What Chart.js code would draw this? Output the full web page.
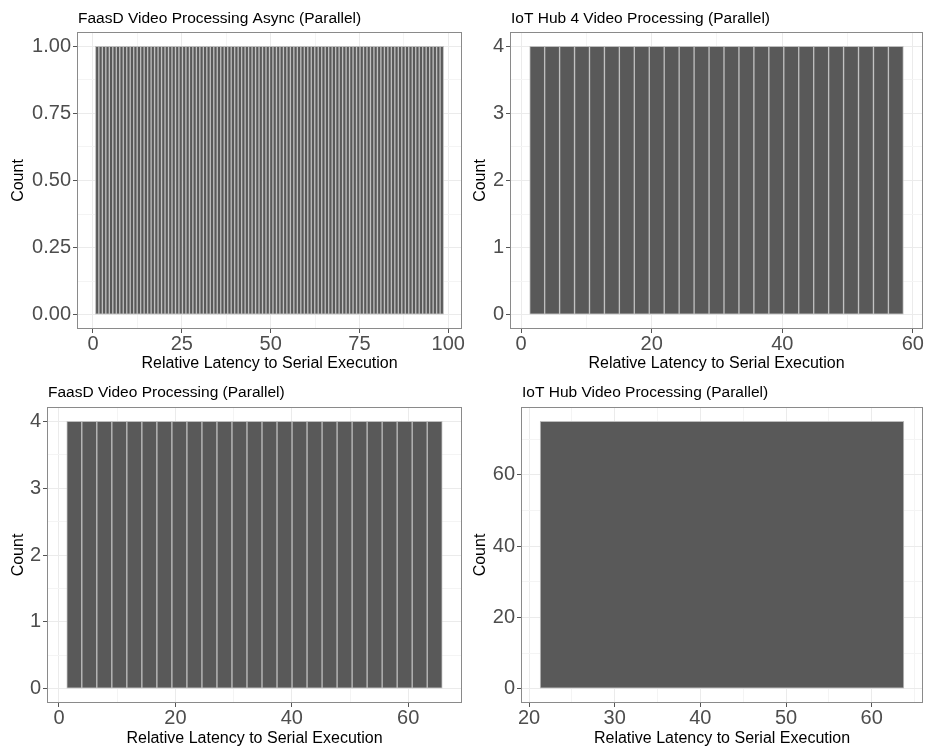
<!DOCTYPE html>
<html>
<head>
<meta charset="utf-8">
<script src="https://cdn.jsdelivr.net/npm/chart.js@4.4.1/dist/chart.umd.min.js"></script>
<style>
html, body { margin: 0; padding: 0; background: #ffffff; }
#wrap { position: relative; width: 925px; height: 749px; overflow: hidden; background: #ffffff; }
#wrap canvas { position: absolute; left: 0; top: 0; }
</style>
</head>
<body>
<div id="wrap">
<canvas id="c1" width="925" height="749"></canvas>
<canvas id="c2" width="925" height="749"></canvas>
<canvas id="c3" width="925" height="749"></canvas>
<canvas id="c4" width="925" height="749"></canvas>
</div>
<script>
// ---------------- DATA ----------------
const X_TITLE = 'Relative Latency to Serial Execution';
const Y_TITLE = 'Count';

// Panel 1: FaasD Video Processing Async (Parallel)
const P1_TITLE = 'FaasD Video Processing Async (Parallel)';
const P1_BIN_CENTERS = [1.17, 2.15, 3.13, 4.11, 5.09, 6.07, 7.05, 8.03, 9.01, 9.99,
  10.97, 11.95, 12.93, 13.91, 14.89, 15.87, 16.85, 17.83, 18.81, 19.79,
  20.77, 21.75, 22.73, 23.71, 24.69, 25.67, 26.65, 27.63, 28.61, 29.59,
  30.57, 31.55, 32.53, 33.51, 34.49, 35.47, 36.45, 37.43, 38.41, 39.39,
  40.37, 41.35, 42.33, 43.31, 44.29, 45.27, 46.25, 47.23, 48.21, 49.19,
  50.17, 51.15, 52.13, 53.11, 54.09, 55.07, 56.05, 57.03, 58.01, 58.99,
  59.97, 60.95, 61.93, 62.91, 63.89, 64.87, 65.85, 66.83, 67.81, 68.79,
  69.77, 70.75, 71.73, 72.71, 73.69, 74.67, 75.65, 76.63, 77.61, 78.59,
  79.57, 80.55, 81.53, 82.51, 83.49, 84.47, 85.45, 86.43, 87.41, 88.39,
  89.37, 90.35, 91.33, 92.31, 93.29, 94.27, 95.25, 96.23, 97.21, 98.19];
const P1_COUNTS = [1, 1, 1, 1, 1, 1, 1, 1, 1, 1,
  1, 1, 1, 1, 1, 1, 1, 1, 1, 1,
  1, 1, 1, 1, 1, 1, 1, 1, 1, 1,
  1, 1, 1, 1, 1, 1, 1, 1, 1, 1,
  1, 1, 1, 1, 1, 1, 1, 1, 1, 1,
  1, 1, 1, 1, 1, 1, 1, 1, 1, 1,
  1, 1, 1, 1, 1, 1, 1, 1, 1, 1,
  1, 1, 1, 1, 1, 1, 1, 1, 1, 1,
  1, 1, 1, 1, 1, 1, 1, 1, 1, 1,
  1, 1, 1, 1, 1, 1, 1, 1, 1, 1];
const P1_X_RANGE = [-4.22, 103.58];
const P1_Y_RANGE = [-0.05, 1.05];
const P1_X_MAJOR = [0, 25, 50, 75, 100];
const P1_X_MINOR = [12.5, 37.5, 62.5, 87.5];
const P1_Y_MAJOR = [0, 0.25, 0.5, 0.75, 1];
const P1_Y_MINOR = [0.125, 0.375, 0.625, 0.875];

// Panel 2: IoT Hub 4 Video Processing (Parallel)
const P2_TITLE = 'IoT Hub 4 Video Processing (Parallel)';
const P2_BIN_CENTERS = [2.45, 4.74, 7.03, 9.32, 11.61, 13.90, 16.19, 18.48, 20.77, 23.06,
  25.35, 27.64, 29.93, 32.22, 34.51, 36.80, 39.09, 41.38, 43.67, 45.96,
  48.25, 50.54, 52.83, 55.12, 57.41];
const P2_COUNTS = [4, 4, 4, 4, 4, 4, 4, 4, 4, 4, 4, 4, 4, 4, 4, 4, 4, 4, 4, 4, 4, 4, 4, 4, 4];
const P2_X_RANGE = [-1.56, 61.41];
const P2_Y_RANGE = [-0.2, 4.2];
const P2_X_MAJOR = [0, 20, 40, 60];
const P2_X_MINOR = [10, 30, 50];
const P2_Y_MAJOR = [0, 1, 2, 3, 4];
const P2_Y_MINOR = [0.5, 1.5, 2.5, 3.5];

// Panel 3: FaasD Video Processing (Parallel)
const P3_TITLE = 'FaasD Video Processing (Parallel)';
const P3_BIN_CENTERS = [2.63, 5.21, 7.79, 10.37, 12.95, 15.53, 18.11, 20.69, 23.27, 25.85,
  28.43, 31.01, 33.59, 36.17, 38.75, 41.33, 43.91, 46.49, 49.07, 51.65,
  54.23, 56.81, 59.39, 61.97, 64.55];
const P3_COUNTS = [4, 4, 4, 4, 4, 4, 4, 4, 4, 4, 4, 4, 4, 4, 4, 4, 4, 4, 4, 4, 4, 4, 4, 4, 4];
const P3_X_RANGE = [-1.885, 69.065];
const P3_Y_RANGE = [-0.2, 4.2];
const P3_X_MAJOR = [0, 20, 40, 60];
const P3_X_MINOR = [10, 30, 50];
const P3_Y_MAJOR = [0, 1, 2, 3, 4];
const P3_Y_MINOR = [0.5, 1.5, 2.5, 3.5];

// Panel 4: IoT Hub Video Processing (Parallel)
const P4_TITLE = 'IoT Hub Video Processing (Parallel)';
const P4_BIN_CENTERS = [42.525];
const P4_BIN_WIDTH = 42.45;
const P4_COUNTS = [75];
const P4_X_RANGE = [19.18, 65.87];
const P4_Y_RANGE = [-3.75, 78.75];
const P4_X_MAJOR = [20, 30, 40, 50, 60];
const P4_X_MINOR = [25, 35, 45, 55, 65];
const P4_Y_MAJOR = [0, 20, 40, 60];
const P4_Y_MINOR = [10, 30, 50, 70];

// ---------------- STYLE ----------------
const FONT = "'Liberation Sans', Arial, sans-serif";
const BAR_FILL = '#595959';
const BAR_EDGE = '#bdbdbd';
const GRID_MAJOR = '#ebebeb';
const GRID_MINOR = '#f4f4f4';
const TICK_COLOR = '#555555';
const TICK_TEXT = '#4d4d4d';
const FRAME = '#8a8a8a';

Chart.defaults.font.family = FONT;

const panelBorder = {
  id: 'panelBorder',
  afterDatasetsDraw(chart) {
    const { ctx, chartArea: a } = chart;
    ctx.save();
    ctx.strokeStyle = FRAME;
    ctx.lineWidth = 1;
    const l = Math.round(a.left), t = Math.round(a.top), r = Math.round(a.right), b = Math.round(a.bottom);
    ctx.strokeRect(l - 0.5, t - 0.5, r - l + 1, b - t + 1);
    ctx.restore();
  }
};

function tickList(major, minor) {
  return major.concat(minor).sort((a, b) => a - b).map(v => ({ value: v }));
}

function makePanel(id, p) {
  const isMaj = (arr, v) => arr.some(m => Math.abs(m - v) < 1e-9);
  const span = p.xRange[1] - p.xRange[0];
  const catPct = p.centers.length === 1 ? p.binWidth / span : 1;
  new Chart(document.getElementById(id), {
    type: 'bar',
    data: {
      datasets: [{
        data: p.centers.map((c, i) => ({ x: c, y: p.counts[i] })),
        backgroundColor: BAR_FILL,
        borderColor: BAR_EDGE,
        borderWidth: 1,
        borderSkipped: false,
        barThickness: 'flex',
        categoryPercentage: catPct,
        barPercentage: 1
      }]
    },
    plugins: [panelBorder],
    options: {
      responsive: false,
      animation: false,
      devicePixelRatio: 1,
      layout: { padding: p.region, autoPadding: false },
      events: [],
      plugins: {
        legend: { display: false },
        tooltip: { enabled: false },
        title: {
          display: true,
          text: p.title,
          align: 'start',
          fullSize: false,
          color: '#000000',
          font: { family: FONT, size: 15.5, weight: 'normal', lineHeight: 1.2 },
          padding: { top: 9.7, bottom: p.titleH - 9.7 - 18.6 }
        }
      },
      scales: {
        x: {
          type: 'linear',
          min: p.xRange[0],
          max: p.xRange[1],
          offset: false,
          afterBuildTicks: s => { s.ticks = tickList(p.xMajor, p.xMinor); },
          afterFit: s => { s.height = p.xAxisH; s.paddingLeft = 0; s.paddingRight = 0; },
          border: { display: false },
          grid: {
            offset: false,
            drawTicks: true,
            tickLength: 5,
            tickWidth: 1,
            lineWidth: 1,
            color: c => isMaj(p.xMajor, c.tick.value) ? GRID_MAJOR : GRID_MINOR,
            tickColor: c => isMaj(p.xMajor, c.tick.value) ? TICK_COLOR : 'rgba(0,0,0,0)'
          },
          ticks: {
            autoSkip: false, maxRotation: 0, minRotation: 0, padding: 1,
            color: TICK_TEXT,
            font: { family: FONT, size: 20, lineHeight: 1 },
            callback: v => isMaj(p.xMajor, v) ? p.xFmt(v) : ''
          },
          title: {
            display: true, text: X_TITLE, color: '#000000',
            font: { family: FONT, size: 16, lineHeight: 1.2 },
            padding: { top: 0, bottom: 0.5 }
          }
        },
        y: {
          type: 'linear',
          min: p.yRange[0],
          max: p.yRange[1],
          afterBuildTicks: s => { s.ticks = tickList(p.yMajor, p.yMinor); },
          afterFit: s => { s.width = p.yAxisW; s.paddingTop = 0; s.paddingBottom = 0; },
          border: { display: false },
          grid: {
            drawTicks: true,
            tickLength: 5,
            tickWidth: 1,
            lineWidth: 1,
            color: c => isMaj(p.yMajor, c.tick.value) ? GRID_MAJOR : GRID_MINOR,
            tickColor: c => isMaj(p.yMajor, c.tick.value) ? TICK_COLOR : 'rgba(0,0,0,0)'
          },
          ticks: {
            autoSkip: false, padding: 2,
            color: TICK_TEXT,
            font: { family: FONT, size: 20, lineHeight: 1 },
            callback: v => isMaj(p.yMajor, v) ? p.yFmt(v) : ''
          },
          title: {
            display: true, text: Y_TITLE, color: '#000000',
            font: { family: FONT, size: 16, lineHeight: 1.2 },
            padding: { top: 9, bottom: 0 }
          }
        }
      }
    }
  });
}

const intFmt = v => String(Math.round(v));

makePanel('c1', {
  title: P1_TITLE, centers: P1_BIN_CENTERS, counts: P1_COUNTS,
  xRange: P1_X_RANGE, yRange: P1_Y_RANGE,
  xMajor: P1_X_MAJOR, xMinor: P1_X_MINOR, yMajor: P1_Y_MAJOR, yMinor: P1_Y_MINOR,
  xFmt: intFmt, yFmt: v => v.toFixed(2),
  region: { left: 0, top: 0, right: 464, bottom: 375 },
  yAxisW: 78, xAxisH: 46, titleH: 33
});
makePanel('c2', {
  title: P2_TITLE, centers: P2_BIN_CENTERS, counts: P2_COUNTS,
  xRange: P2_X_RANGE, yRange: P2_Y_RANGE,
  xMajor: P2_X_MAJOR, xMinor: P2_X_MINOR, yMajor: P2_Y_MAJOR, yMinor: P2_Y_MINOR,
  xFmt: intFmt, yFmt: intFmt,
  region: { left: 462, top: 0, right: 3, bottom: 375 },
  yAxisW: 49, xAxisH: 46, titleH: 33
});
makePanel('c3', {
  title: P3_TITLE, centers: P3_BIN_CENTERS, counts: P3_COUNTS,
  xRange: P3_X_RANGE, yRange: P3_Y_RANGE,
  xMajor: P3_X_MAJOR, xMinor: P3_X_MINOR, yMajor: P3_Y_MAJOR, yMinor: P3_Y_MINOR,
  xFmt: intFmt, yFmt: intFmt,
  region: { left: 0, top: 374, right: 464, bottom: 0 },
  yAxisW: 48, xAxisH: 47, titleH: 34
});
makePanel('c4', {
  title: P4_TITLE, centers: P4_BIN_CENTERS, counts: P4_COUNTS, binWidth: P4_BIN_WIDTH,
  xRange: P4_X_RANGE, yRange: P4_Y_RANGE,
  xMajor: P4_X_MAJOR, xMinor: P4_X_MINOR, yMajor: P4_Y_MAJOR, yMinor: P4_Y_MINOR,
  xFmt: intFmt, yFmt: intFmt,
  region: { left: 462, top: 374, right: 3, bottom: 0 },
  yAxisW: 60, xAxisH: 47, titleH: 34
});
</script>
</body>
</html>
